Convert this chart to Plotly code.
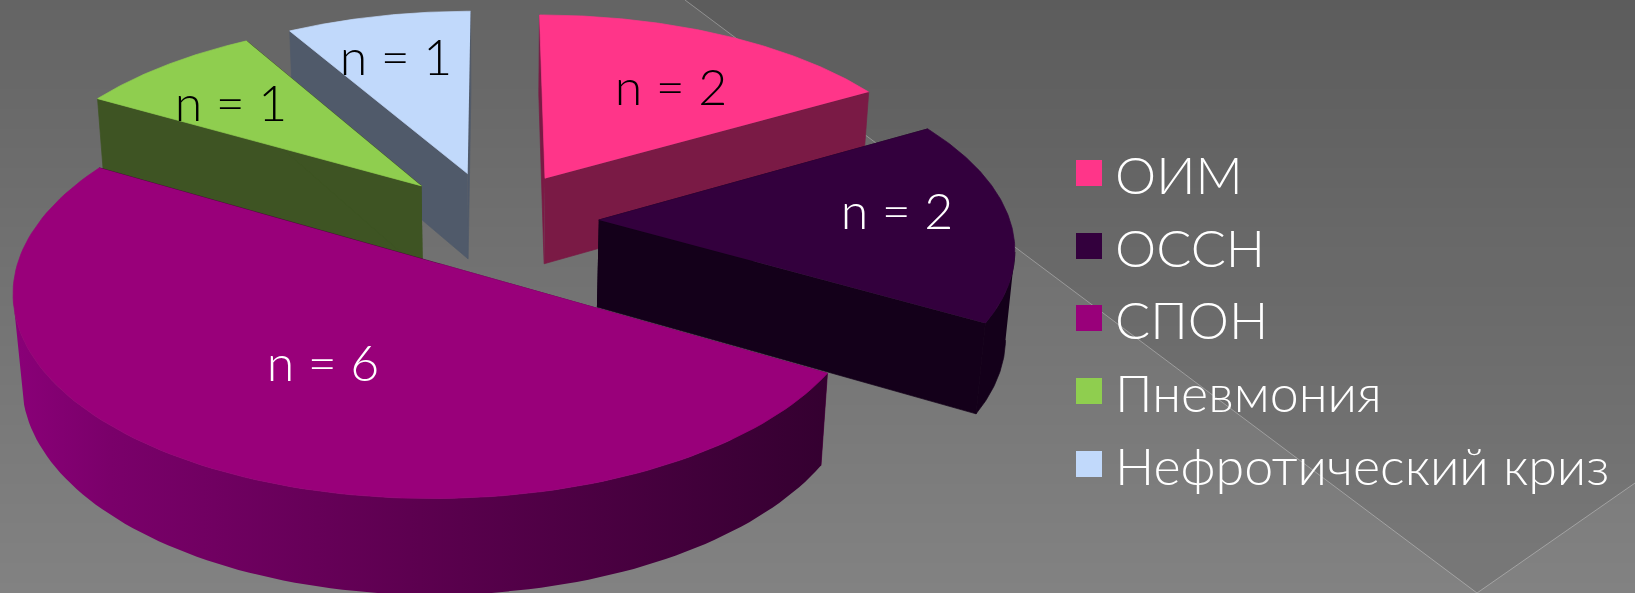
import numpy as np
import plotly.graph_objects as go

# Данные диаграммы
categories = ['ОИМ', 'ОССН', 'СПОН', 'Пневмония', 'Нефротический криз']
values = [2, 2, 6, 1, 1]
top_colors = ['#FF3589', '#33003D', '#99007A', '#8FCE4F', '#C1D9FB']
face_colors = ['#7A1A45', '#14001A', '#4D003D', '#3E5423', '#505A6A']
label_colors = ['black', 'white', 'white', 'black', 'black']
draw_order = [4, 0, 3, 1, 2]

# Подписи: центр текста в пикселях картинки
label_x = [671, 897, 323, 231, 396]
label_y = [92, 216, 368, 108, 62]

# Легенда
legend_x = 1089
legend_y = [173, 246, 318, 391, 464]

# Параметры 3D-проекции (подобраны по картинке)
W, H = 1635, 593
CX, CY = 494, 220
A, B = 411, 193.5
K = 0.1245      # перспектива по глубине плоскости
DEPTH = 88.5    # высота пирога
M = 0.018       # сужение стенок вниз
EXPLODE = 0.255


def project(u, v, z=0.0):
    w = 1 + K * v + M * z
    return CX + A * u / w, CY + (-B * v + DEPTH * z) / w


def rim(deg, off):
    t = np.radians(deg)
    return np.sin(t) + off[0], np.cos(t) + off[1]


def polygon(x, y, color=None, gradient=None):
    tr = go.Scatter(x=x, y=y, mode='lines', fill='toself', line=dict(width=0),
                    hoverinfo='skip', showlegend=False)
    if gradient:
        tr.fillgradient = dict(type='horizontal', colorscale=gradient)
    else:
        tr.fillcolor = color
        tr.line = dict(color=color, width=0.7)   # чтобы не было швов между гранями
    return tr


fig = go.Figure()

# Фон: вертикальный градиент и тёмный ромб с тонкой линией
rows = np.arange(0, H + 1, 4)
fig.add_trace(go.Heatmap(
    x=[0, W], y=rows, z=[[r, r] for r in rows], zsmooth='best',
    colorscale=[[0, '#646464'], [1, '#828282']], showscale=False, hoverinfo='skip'
))
corner_x = [685, 1477, 1635, 1635, 685]
corner_y = [0, 593, 483, 0, 0]
fig.add_trace(go.Scatter(x=corner_x, y=corner_y, mode='none', fill='toself',
                         fillcolor='rgba(0,0,0,0.07)', hoverinfo='skip', showlegend=False))
fig.add_trace(go.Scatter(x=corner_x[:3], y=corner_y[:3], mode='lines',
                         line=dict(color='rgba(255,255,255,0.3)', width=1),
                         hoverinfo='skip', showlegend=False))

# Углы секторов по часовой стрелке от 12 часов
edges = np.concatenate([[0], np.cumsum(values)]) / sum(values) * 360

for i in draw_order:
    a0, a1 = edges[i], edges[i + 1]
    mid = np.radians((a0 + a1) / 2)
    off = (EXPLODE * np.sin(mid), EXPLODE * np.cos(mid))
    arc = np.linspace(a0, a1, 120)
    ru, rv = rim(arc, off)

    # Боковые срезы сектора
    for ang in (a0, a1):
        u1, v1 = rim(ang, off)
        fu = np.array([off[0], u1, u1, off[0]])
        fv = np.array([off[1], v1, v1, off[1]])
        fz = np.array([0, 0, 1, 1])
        fig.add_trace(polygon(*project(fu, fv, fz), color=face_colors[i]))

    # Внешняя стенка: только та часть дуги, что смотрит на зрителя
    front = np.gradient(project(ru, rv)[0]) < 0
    if front.sum() > 1:
        su, sv = ru[front], rv[front]
        wu = np.concatenate([su, su[::-1]])
        wv = np.concatenate([sv, sv[::-1]])
        wz = np.concatenate([np.zeros(len(su)), np.ones(len(su))])
        if i == 2:
            grad = [[0, '#8A0078'], [0.12, '#7A006A'], [0.5, '#5C004F'], [1, '#340030']]
            fig.add_trace(polygon(*project(wu, wv, wz), gradient=grad))
        else:
            fig.add_trace(polygon(*project(wu, wv, wz), color=face_colors[i]))

    # Верх сектора
    tu = np.concatenate([[off[0]], ru])
    tv = np.concatenate([[off[1]], rv])
    fig.add_trace(polygon(*project(tu, tv), color=top_colors[i]))

# Подписи n = ...
fig.add_trace(go.Scatter(
    x=label_x, y=label_y, mode='text',
    text=[f'n = {v}' for v in values],
    textposition='middle center',
    textfont=dict(family='Lato', size=50, weight=300, color=label_colors),
    hoverinfo='skip', showlegend=False
))

# Легенда
fig.add_trace(go.Scatter(
    x=[legend_x] * len(categories), y=legend_y, mode='markers',
    marker=dict(symbol='square', size=26, color=top_colors, line=dict(width=0)),
    hoverinfo='skip', showlegend=False
))
for name, y in zip(categories, legend_y):
    fig.add_annotation(x=legend_x + 24, y=y + 1, text=name, showarrow=False, xanchor='left',
                       yanchor='middle', font=dict(family='Lato', size=52, weight=300, color='white'))

fig.update_xaxes(range=[0, W], visible=False, fixedrange=True)
fig.update_yaxes(range=[H, 0], visible=False, fixedrange=True)
fig.update_layout(width=W, height=H, margin=dict(l=0, r=0, t=0, b=0),
                  paper_bgcolor='#707070', plot_bgcolor='#707070')
# Убираем поля страницы, чтобы фон занял всё окно
fig.write_html('out.html', config={'displayModeBar': False},
               post_script="document.body.style.margin='0';document.body.style.overflow='hidden';")
